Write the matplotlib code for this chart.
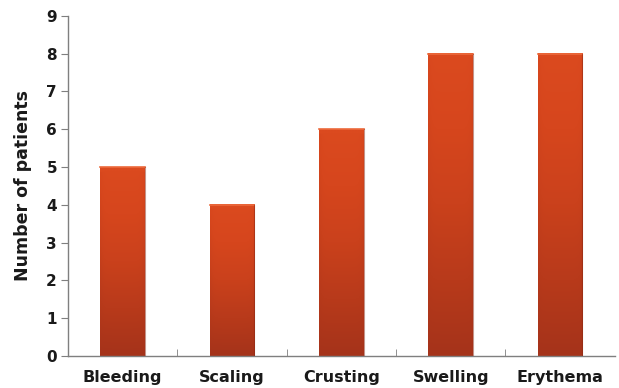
import numpy as np
import matplotlib.pyplot as plt
from matplotlib.colors import LinearSegmentedColormap

symptoms = ['Bleeding', 'Scaling', 'Crusting', 'Swelling', 'Erythema']
patients = [5, 4, 6, 8, 8]
y_ticks = list(range(0, 10))

fig = plt.figure(figsize=(6.19, 3.88), dpi=100)
ax = fig.add_axes([0.110, 0.0825, 0.883, 0.8765])

# shaded orange fill: lighter at the top, darker toward the base and the sides
cmap = LinearSegmentedColormap.from_list(
    'bar', ['#a5331a', '#b83a1b', '#ca411c', '#d6461d', '#db4a1f'])
ny, nx = 200, 60
vy = np.linspace(0, 1, ny)[:, None]
vx = np.linspace(-1, 1, nx)[None, :]
shade = vy * (1 - 0.2 * np.abs(vx) ** 8)

width = 0.41
x = np.arange(len(symptoms))
for xi, h in zip(x, patients):
    x0, x1 = xi - width / 2, xi + width / 2
    img = shade.copy()
    # highlight band at the top edge
    top_px = int(ny * 0.1 / h) + 1
    img[-top_px:, :] = 1.0
    ax.imshow(img, cmap=cmap, vmin=0, vmax=1.0, origin='lower', aspect='auto',
              extent=[x0, x1, 0, h], interpolation='bilinear', zorder=2)
    ax.plot([x0, x1], [h, h], color='#ec6a3c', lw=1.2, zorder=3)
    ax.plot([x1, x1], [0, h], color='#8a2814', lw=0.8, alpha=0.5, zorder=3)

ax.set_xlim(-0.5, len(symptoms) - 0.5)
ax.set_ylim(0, 9)
ax.set_yticks(y_ticks)
ax.set_xticks(x)
ax.set_xticklabels(symptoms)
ax.set_xticks(np.arange(0.5, len(symptoms) - 0.5), minor=True)

for side in ('top', 'right'):
    ax.spines[side].set_visible(False)
for side in ('left', 'bottom'):
    ax.spines[side].set_color('#7f7f7f')
    ax.spines[side].set_linewidth(1.0)

ax.tick_params(axis='y', direction='out', length=5, color='#7f7f7f',
               labelsize=11, pad=3, labelcolor='#1a1a1a')
ax.tick_params(axis='x', which='major', length=0, labelsize=11.5, pad=10,
               labelcolor='#1a1a1a')
ax.tick_params(axis='x', which='minor', direction='in', length=5,
               color='#7f7f7f')
for lbl in ax.get_xticklabels() + ax.get_yticklabels():
    lbl.set_fontweight('bold')

ax.set_ylabel('Number of patients', fontsize=12.5, fontweight='bold',
              labelpad=10, color='#1a1a1a')

fig.savefig('out.png', dpi=100)
